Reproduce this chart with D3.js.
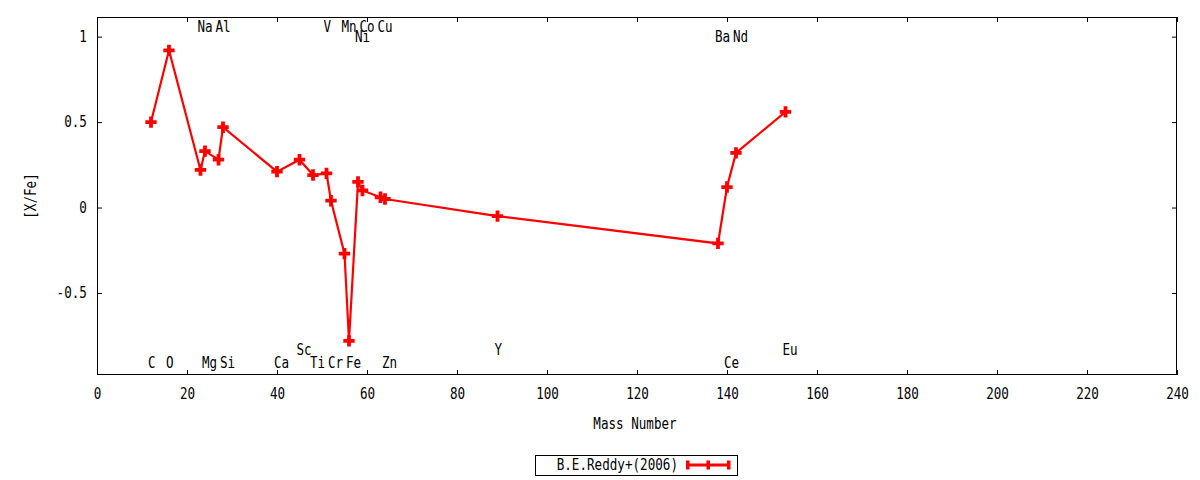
<!DOCTYPE html>
<html>
<head>
<meta charset="utf-8">
<script src="https://d3js.org/d3.v7.min.js"></script>
<style>
  body { margin: 0; background: #fff; }
  svg text { font-family: "DejaVu Sans Mono", monospace; font-size: 15px; fill: #000; }
</style>
</head>
<body>
<script>
// elements, mass numbers and [X/Fe]
var elements = ["C", "O", "Na", "Mg", "Al", "Si", "Ca", "Sc", "Ti", "V", "Cr",
                "Mn", "Fe", "Ni", "Co", "Cu", "Zn", "Y", "Ba", "Ce", "Nd", "Eu"];
var mass = [12, 16, 23, 24, 27, 28, 40, 45, 48, 51, 52,
            55, 56, 58, 59, 63, 64, 89, 138, 140, 142, 153];
var xfe = [0.50, 0.92, 0.22, 0.33, 0.28, 0.47, 0.21, 0.28, 0.19, 0.20, 0.04,
           -0.27, -0.78, 0.15, 0.10, 0.06, 0.05, -0.05, -0.21, 0.12, 0.32, 0.56];
// y (in data units) where each element name is written
var labelY = [-0.91, -0.91, 1.06, -0.91, 1.06, -0.91, -0.91, -0.83, -0.91, 1.06, -0.91,
              1.06, -0.91, 1.00, 1.06, 1.06, -0.91, -0.83, 1.00, -0.91, 1.00, -0.83];
var xTicks = [0, 20, 40, 60, 80, 100, 120, 140, 160, 180, 200, 220, 240];
var yTicks = [-0.5, 0, 0.5, 1];
var seriesName = "B.E.Reddy+(2006)";

var W = 1200, H = 480;
var pL = 97, pR = 1177, pT = 17, pB = 375;
var squeeze = "scale(0.84,1)";   // narrow the glyphs like the original font

var svg = d3.select("body").append("svg")
    .attr("width", W).attr("height", H);

var x = d3.scaleLinear().domain([0, 240]).range([pL, pR]);
var y = d3.scaleLinear().domain([-0.98, 1.115]).range([pB, pT]);

var points = mass.map(function(m, i) { return { m: m, v: xfe[i], name: elements[i], ly: labelY[i] }; });

// axes, ticks pointing inward, mirrored on top and right
svg.append("g").attr("transform", "translate(0," + pB + ")")
    .call(d3.axisBottom(x).tickValues(xTicks).tickSizeInner(-5).tickSizeOuter(0).tickPadding(13));
svg.append("g").attr("transform", "translate(" + pL + ",0)")
    .call(d3.axisLeft(y).tickValues(yTicks).tickSizeInner(-5).tickSizeOuter(0).tickPadding(12)
      .tickFormat(function(d) { return String(d); }));
svg.append("g").attr("transform", "translate(0," + pT + ")")
    .call(d3.axisTop(x).tickValues(xTicks).tickSizeInner(-5).tickSizeOuter(0).tickFormat(""));
svg.append("g").attr("transform", "translate(" + pR + ",0)")
    .call(d3.axisRight(y).tickValues(yTicks).tickSizeInner(-5).tickSizeOuter(0).tickFormat(""));

svg.selectAll(".domain").remove();
svg.selectAll(".tick line").attr("stroke", "#000");
svg.selectAll(".tick text").attr("transform", squeeze)
    .style("font-family", "DejaVu Sans Mono").style("font-size", "15px").attr("fill", "#000");

svg.append("rect")
    .attr("x", pL + 0.5).attr("y", pT + 0.5)
    .attr("width", pR - pL - 1).attr("height", pB - pT - 1)
    .attr("fill", "none").attr("stroke", "#000").attr("stroke-width", 1);

// element names
svg.append("g").selectAll("g")
    .data(points).enter().append("g")
    .attr("transform", function(d) { return "translate(" + (x(d.m) - 3) + "," + y(d.ly) + ") " + squeeze; })
    .append("text")
    .attr("dy", "0.36em")
    .text(function(d) { return d.name; });

// series line and markers
var line = d3.line().x(function(d) { return x(d.m); }).y(function(d) { return y(d.v); });
svg.append("path").datum(points)
    .attr("d", line)
    .attr("fill", "none").attr("stroke", "#ff0000").attr("stroke-width", 2.2);

var cross = d3.symbol().type(d3.symbolCross).size(72);
svg.append("g").selectAll("path")
    .data(points).enter().append("path")
    .attr("d", cross)
    .attr("transform", function(d) { return "translate(" + x(d.m) + "," + y(d.v) + ")"; })
    .attr("fill", "#ff0000");

// axis titles
svg.append("g").attr("transform", "translate(" + ((pL + pR) / 2 - 2) + ",424) " + squeeze)
  .append("text").attr("text-anchor", "middle").attr("dy", "0.36em").text("Mass Number");
svg.append("g").attr("transform", "translate(31," + ((pT + pB) / 2) + ") rotate(-90) " + squeeze)
  .append("text").attr("text-anchor", "middle").attr("dy", "0.36em").text("[X/Fe]");

// key
var key = svg.append("g");
key.append("rect").attr("x", 535.5).attr("y", 455.5).attr("width", 202).attr("height", 20)
    .attr("fill", "none").attr("stroke", "#000");
key.append("g").attr("transform", "translate(678,465) " + squeeze)
  .append("text").attr("text-anchor", "end").attr("dy", "0.36em").text(seriesName);
key.append("line").attr("x1", 686).attr("x2", 730).attr("y1", 465).attr("y2", 465)
    .attr("stroke", "#ff0000").attr("stroke-width", 3);
[687.5, 708, 728.5].forEach(function(px) {
  key.append("rect").attr("x", px - 1.5).attr("y", 460.5).attr("width", 3.5).attr("height", 9)
      .attr("fill", "#ff0000");
});
</script>
</body>
</html>
